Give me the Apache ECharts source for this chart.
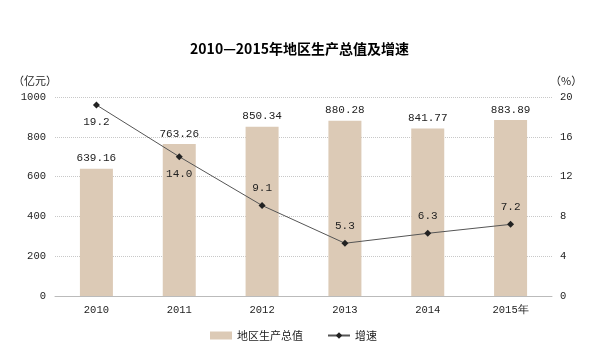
<!DOCTYPE html>
<html><head><meta charset="utf-8">
<script src="https://cdn.jsdelivr.net/npm/echarts@6/dist/echarts.min.js"></script>
<style>html,body{margin:0;padding:0;background:#fff}#c{width:599px;height:349px}</style>
</head><body><div id="c"></div>
<script>
const categories = ['2010','2011','2012','2013','2014','2015年'];
const gdpValues = [639.16, 763.26, 850.34, 880.28, 841.77, 883.89];
const growthValues = [19.2, 14.0, 9.1, 5.3, 6.3, 7.2];
const leftTicks = [0, 200, 400, 600, 800, 1000];
const rightTicks = [0, 4, 8, 12, 16, 20];

const numFont = 'Liberation Mono';
const chart = echarts.init(document.getElementById('c'));
chart.setOption({
  animation: false,
  title: {
    text: '2010—2015年地区生产总值及增速',
    left: 'center', top: 37,
    textStyle: {fontFamily: 'Noto Sans CJK SC', fontWeight: 'bold', fontSize: 14, color: '#000'}
  },
  legend: {
    bottom: 3, left: 205, itemGap: 24,
    itemWidth: 22, itemHeight: 8,
    textStyle: {fontFamily: 'Noto Sans CJK SC', fontSize: 11, color: '#222'},
    data: [{name: '地区生产总值', icon: 'rect'}, {name: '增速'}]
  },
  grid: {left: 55, right: 47, top: 97, bottom: 53},
  xAxis: {
    type: 'category', data: categories,
    axisLine: {lineStyle: {color: '#bbb', width: 1}},
    axisTick: {show: false},
    axisLabel: {fontFamily: numFont, fontSize: 10.5, color: '#222', margin: 9}
  },
  yAxis: [
    {
      type: 'value', min: 0, max: 1000, interval: 200,
      name: '（亿元）', nameLocation: 'end', nameGap: 11,
      nameTextStyle: {fontFamily: 'Noto Sans CJK SC', fontSize: 11, color: '#222', align: 'right', padding: [0, -2, 0, 0]},
      axisLine: {show: false}, axisTick: {show: false},
      axisLabel: {fontFamily: numFont, fontSize: 10.5, color: '#222', margin: 9,
                  formatter: v => leftTicks.includes(v) ? String(v) : ''},
      splitLine: {lineStyle: {color: '#c8c8c8', type: 'dotted', width: 1}}
    },
    {
      type: 'value', min: 0, max: 20, interval: 4,
      name: '（%）', nameLocation: 'end', nameGap: 11,
      nameTextStyle: {fontFamily: 'Noto Sans CJK SC', fontSize: 11, color: '#222', align: 'left', padding: [0, 0, 0, -2]},
      axisLine: {show: false}, axisTick: {show: false},
      axisLabel: {fontFamily: numFont, fontSize: 10.5, color: '#222', margin: 8,
                  formatter: v => rightTicks.includes(v) ? String(v) : ''},
      splitLine: {show: false}
    }
  ],
  series: [
    {
      name: '地区生产总值', type: 'bar', data: gdpValues, barWidth: 33,
      itemStyle: {color: '#dccab6'},
      label: {show: true, position: 'top', distance: 5, fontFamily: numFont, fontSize: 11, color: '#222',
              formatter: p => p.value.toFixed(2)}
    },
    {
      name: '增速', type: 'line', yAxisIndex: 1, data: growthValues.map((v, i) => ({
        value: v,
        label: {position: i < 2 ? 'bottom' : 'top'}
      })),
      symbol: 'diamond', symbolSize: 7,
      lineStyle: {color: '#555', width: 1},
      itemStyle: {color: '#222'},
      label: {show: true, distance: 8, fontFamily: numFont, fontSize: 11, color: '#222',
              formatter: p => p.value.toFixed(1)}
    }
  ]
});
</script></body></html>
